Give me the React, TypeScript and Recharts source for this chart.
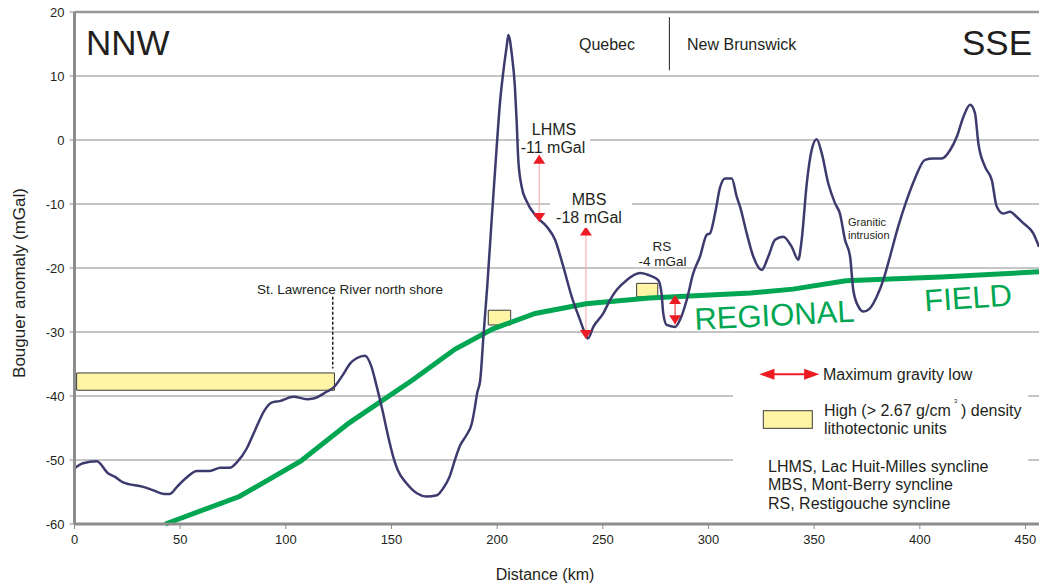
import React from 'react';
import {
  ComposedChart,
  Line,
  Scatter,
  XAxis,
  YAxis,
  CartesianGrid,
  ReferenceLine,
  ReferenceArea,
} from 'recharts';

const FONT = '"Liberation Sans", Arial, Helvetica, sans-serif';
const INK = '#231f20';
const NAVY = '#3d3b6e';
const GREEN = '#00a651';
const RED = '#ed1c24';
const PINK = '#f5a3a3';
const GRID = '#8c8c8c';
const YELLOW = '#fff5a5';

const xTicks = [0, 50, 100, 150, 200, 250, 300, 350, 400, 450];
const yTicks = [-60, -50, -40, -30, -20, -10, 0, 10, 20];

// observed Bouguer anomaly along the profile
const gravityKm = [
  0, 4, 10.5, 16, 19, 23, 32.5, 37, 42.5, 45, 48.5, 52.5, 58, 64, 69, 73.5, 77, 81.5, 85.5, 90,
  93.5, 97, 103.5, 110, 113, 119.5, 122.5, 127, 130.5, 133.5, 137.5, 140.5, 143, 145.7, 148.5, 151,
  153, 157, 162, 166.5, 171.5, 174.5, 177.5, 180, 182.5, 185.5, 188, 189.5, 190.5, 192, 193.5, 195.3,
  197.4, 199.8, 201.3, 203, 204.5, 205.3, 206.9, 208.4, 209.2, 210, 211.6, 214, 218.7, 223.4, 227.4,
  231.3, 235.3, 239.2, 241.6, 243, 245.5, 250.2, 253.4, 256.6, 261.3, 267.6, 272.3, 276.2, 277.8,
  278.6, 280.2, 284.2, 286.5, 289.7, 292.8, 296, 299.2, 300.7, 303.1, 305.4, 307.8, 311, 313.4, 315,
  318.1, 321.2, 325.2, 328.3, 331.5, 335.4, 339.4, 342.5, 344.1, 346.5, 348.8, 351.2, 353.6, 356.7,
  359.9, 362.2, 364.6, 367, 368.5, 370.9, 373.3, 376.4, 379.6, 382.7, 385.9, 389.8, 393.8, 397.7,
  402.5, 406.4, 410.4, 414.3, 417.5, 420.6, 423.8, 426.1, 427.7, 430.9, 434.1, 436.4, 439.5, 442.7,
  445.8, 449, 453.7, 456.4,
];
const gravityMgal = [
  -51.3, -50.5, -50.2, -52.1, -52.6, -53.5, -54.2, -54.7, -55.3, -55.3, -54.2, -52.9, -51.7, -51.7,
  -51.2, -51.2, -50.3, -48.2, -45.3, -42.2, -41.0, -40.8, -40.1, -40.5, -40.4, -39.3, -38.7, -36.7,
  -34.9, -34.1, -33.7, -35.4, -38.5, -42.2, -46.4, -49.7, -51.6, -53.6, -55.2, -55.7, -55.5, -54.4,
  -52.6, -50, -47.7, -46.1, -44.3, -41.7, -39.6, -37.5, -30.7, -22.9, -12.5, -1.0, 5.7, 10.9, 14.6,
  16.4, 13.5, 8.3, 3.1, -3.1, -7.3, -9.6, -12.0, -13.5, -15.6, -19.8, -24.5, -28.1, -30.2, -31,
  -29.2, -27.1, -25, -23.4, -21.9, -20.8, -21.2, -21.9, -24, -27.1, -28.9, -29.2, -28.1, -25, -20.8,
  -18.2, -14.8, -14.6, -11.5, -7.5, -6.0, -6.0, -8.9, -10.5, -14.6, -18.2, -20.3, -18.2, -15.6,
  -15.1, -16.7, -18.7, -15.6, -6.8, -1.6, 0.1, -2.1, -6.8, -9.9, -11.5, -15.6, -18.2, -23.4, -26.0,
  -26.8, -26.3, -24.5, -21.9, -18.2, -13.5, -9.4, -6.0, -3.1, -2.9, -2.9, -1.6, 0.5, 3.6, 5.5, 4.2,
  -0.5, -4.2, -6.3, -10.4, -11.5, -11.2, -12.0, -13.0, -14.6, -16.7,
];

// regional field
const regionalKm = [43, 78, 107, 130, 160, 180, 198, 218, 242, 272, 320, 340, 365, 410, 456.4];
const regionalMgal = [-60, -55.7, -50.2, -44.2, -37.5, -32.7, -29.5, -27.1, -25.6, -24.7, -23.9, -23.3, -22.0, -21.4, -20.6];

// high density lithotectonic units
const unitFrom = [1, 195.8, 266];
const unitTo = [123, 206.4, 276];
const unitTop = [-36.4, -26.6, -22.4];
const unitBottom = [-39.1, -28.9, -24.5];

// maximum gravity lows (LHMS, MBS, RS)
const lowKm = [219.9, 242, 284.2];
const lowTop = [-2.3, -13.5, -24.2];
const lowBottom = [-12.8, -31.1, -28.8];
const lowShaft = [PINK, PINK, RED];

const gravity = gravityKm.map((km, i) => ({ km, mgal: gravityMgal[i] }));
const regional = regionalKm.map((km, i) => ({ km, mgal: regionalMgal[i] }));
const heads = lowKm.flatMap((km, i) => [
  { km, mgal: lowTop[i], dir: 'up' },
  { km, mgal: lowBottom[i], dir: 'down' },
]);

const ArrowHead = (props: any) => {
  const { cx, cy, payload } = props;
  if (cx == null || cy == null) return null;
  const h = 9;
  const w = 6;
  const b = payload.dir === 'up' ? cy + h : cy - h;
  return <polygon points={`${cx},${cy} ${cx - w},${b} ${cx + w},${b}`} fill={RED} />;
};

const txt = { fontFamily: FONT, fill: INK } as const;

export default function App() {
  return (
    <div style={{ position: 'absolute', left: 0, top: 0, width: 1039, height: 586, background: '#fff' }}>
      <ComposedChart width={1039} height={586} margin={{ top: 12, right: 0, bottom: 0, left: 0 }}>
        <CartesianGrid vertical={false} stroke={GRID} strokeWidth={1} />
        <XAxis
          type="number"
          dataKey="km"
          domain={[0, 456.4]}
          ticks={xTicks}
          interval={0}
          allowDataOverflow
          height={62}
          axisLine={{ stroke: GRID, strokeWidth: 3 }}
          tickLine={{ stroke: GRID }}
          tickSize={5}
          tickMargin={6}
          tick={{ fill: INK, fontSize: 13, fontFamily: FONT }}
        />
        <YAxis
          type="number"
          domain={[-60, 20]}
          ticks={yTicks}
          interval={0}
          width={74.5}
          axisLine={{ stroke: GRID, strokeWidth: 3 }}
          tickLine={{ stroke: GRID }}
          tickSize={5}
          tickMargin={5}
          tick={{ fill: INK, fontSize: 13, fontFamily: FONT }}
        />
        <ReferenceLine y={20} stroke="#999" strokeWidth={2.5} />
        <ReferenceLine
          segment={[{ x: 122.2, y: -24.5 }, { x: 122.2, y: -35.7 }]}
          stroke={INK}
          strokeWidth={1.5}
          strokeDasharray="3 2"
        />
        <ReferenceLine
          segment={[{ x: 281.5, y: 19.2 }, { x: 281.5, y: 10.9 }]}
          stroke={INK}
          strokeWidth={1}
        />
        {lowKm.map((km, i) => (
          <ReferenceLine
            key={`shaft-${i}`}
            segment={[{ x: km, y: lowTop[i] }, { x: km, y: lowBottom[i] }]}
            stroke={lowShaft[i]}
            strokeWidth={1}
          />
        ))}
        <Line
          data={regional}
          dataKey="mgal"
          type="linear"
          stroke={GREEN}
          strokeWidth={5}
          dot={false}
          activeDot={false}
          isAnimationActive={false}
        />
        <Line
          data={gravity}
          dataKey="mgal"
          type="monotone"
          stroke={NAVY}
          strokeWidth={2.5}
          dot={false}
          activeDot={false}
          isAnimationActive={false}
        />
        {unitFrom.map((x1, i) => (
          <ReferenceArea
            key={`unit-${i}`}
            x1={x1}
            x2={unitTo[i]}
            y1={unitBottom[i]}
            y2={unitTop[i]}
            fill={YELLOW}
            fillOpacity={1}
            stroke="#3a3a3a"
            strokeWidth={1}
          />
        ))}
        <Scatter data={heads} dataKey="mgal" shape={ArrowHead} isAnimationActive={false} />
      </ComposedChart>

      <svg
        width={1039}
        height={586}
        style={{ position: 'absolute', left: 0, top: 0, pointerEvents: 'none' }}
      >
        <rect x={520} y={118} width={70} height={36} fill="#fff" />
        <rect x={550} y={188} width={82} height={40} fill="#fff" />
        <rect x={733} y={345} width={295} height={172} fill="#fff" />

        <text x={86} y={55} fontSize={35} {...txt}>NNW</text>
        <text x={1032} y={55} fontSize={35} textAnchor="end" {...txt}>SSE</text>
        <text x={607} y={50} fontSize={16} textAnchor="middle" {...txt}>Quebec</text>
        <text x={687} y={49.5} fontSize={16} {...txt}>New Brunswick</text>

        <text x={554} y={135} fontSize={16} textAnchor="middle" {...txt}>LHMS</text>
        <text x={553} y={153} fontSize={16} textAnchor="middle" {...txt}>-11 mGal</text>
        <text x={589} y={205} fontSize={16} textAnchor="middle" {...txt}>MBS</text>
        <text x={589} y={223} fontSize={16} textAnchor="middle" {...txt}>-18 mGal</text>
        <text x={662} y={250.5} fontSize={13.5} textAnchor="middle" {...txt}>RS</text>
        <text x={662.5} y={266} fontSize={13.5} textAnchor="middle" {...txt}>-4 mGal</text>
        <text x={848} y={226} fontSize={11} {...txt}>Granitic</text>
        <text x={848} y={238.5} fontSize={11} {...txt}>intrusion</text>
        <text x={257} y={293.5} fontSize={13.5} {...txt}>St. Lawrence River north shore</text>

        <text x={695} y={330} fontSize={31} fill={GREEN} fontFamily={FONT} transform="rotate(-3 695 330)">
          REGIONAL
        </text>
        <text x={925} y={311.5} fontSize={31} fill={GREEN} fontFamily={FONT} transform="rotate(-4 925 311.5)">
          FIELD
        </text>

        <line x1={772} y1={374.3} x2={806} y2={374.3} stroke={RED} strokeWidth={2} />
        <polygon points="759.3,374.3 774.5,368.8 774.5,379.8" fill={RED} />
        <polygon points="819.3,374.3 804.1,368.8 804.1,379.8" fill={RED} />
        <text x={823} y={379.5} fontSize={16} {...txt}>Maximum gravity low</text>

        <rect x={763.3} y={410.7} width={49} height={17.6} fill={YELLOW} stroke="#3a3a3a" strokeWidth={1} />
        <text x={824} y={416} fontSize={16} {...txt}>High (&gt; 2.67 g/cm</text>
        <text x={954} y={403} fontSize={6} {...txt}>3</text>
        <text x={961} y={416} fontSize={16} {...txt}>) density</text>
        <text x={824} y={433.5} fontSize={16} {...txt}>lithotectonic units</text>

        <text x={768} y={471.5} fontSize={16} {...txt}>LHMS, Lac Huit-Milles syncline</text>
        <text x={768} y={490} fontSize={16} {...txt}>MBS, Mont-Berry syncline</text>
        <text x={768} y={509} fontSize={16} {...txt}>RS, Restigouche syncline</text>

        <text x={545} y={580} fontSize={16} textAnchor="middle" {...txt}>Distance (km)</text>
        <text x={25} y={283} fontSize={17} textAnchor="middle" transform="rotate(-90 25 283)" {...txt}>
          Bouguer anomaly (mGal)
        </text>
      </svg>
    </div>
  );
}
